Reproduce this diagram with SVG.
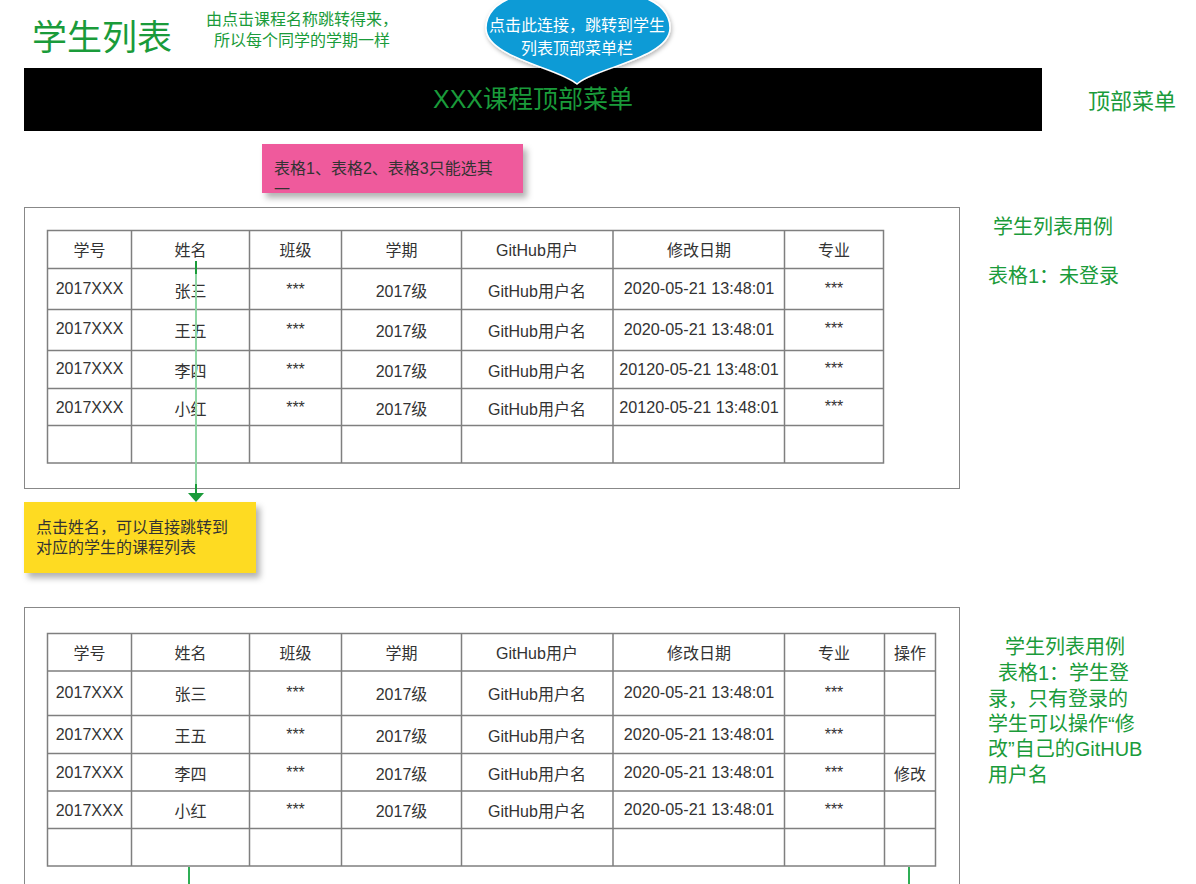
<svg xmlns="http://www.w3.org/2000/svg" width="1196" height="884" viewBox="0 0 1196 884">
<defs>
<style>
text{font-family:"Liberation Sans","Noto Sans CJK SC",sans-serif;}
.g{fill:#1a9b3a;}
.t{font-size:16px;fill:#333333;text-anchor:middle;}
.d{font-size:16.2px;fill:#333333;text-anchor:middle;}
.frame{fill:#ffffff;stroke:#888888;stroke-width:1;}
.grid{fill:none;stroke:#7f7f7f;stroke-width:1.5;}
.note{font-size:16px;fill:#333333;}
.side{font-size:20px;}
</style>
<filter id="sh" x="-10%" y="-20%" width="130%" height="150%">
<feDropShadow dx="4" dy="5" stdDeviation="3" flood-color="#000000" flood-opacity="0.3"/>
</filter>
<filter id="sh2" x="-10%" y="-20%" width="130%" height="150%">
<feDropShadow dx="1" dy="2" stdDeviation="2" flood-color="#000000" flood-opacity="0.3"/>
</filter>
</defs>
<rect width="1196" height="884" fill="#ffffff"/>

<g id="title">
<text x="32" y="50" class="g" font-size="35">学生列表</text>
</g>
<g id="note-source">
<text x="302" y="25" class="g" font-size="16" text-anchor="middle">由点击课程名称跳转得来，</text>
<text x="302" y="46" class="g" font-size="16" text-anchor="middle">所以每个同学的学期一样</text>
</g>

<g id="top-menu">
<rect x="24" y="68" width="1018" height="63" fill="#000000"/>
<text x="533" y="108" class="g" font-size="25" text-anchor="middle">XXX课程顶部菜单</text>
</g>
<g id="top-menu-label">
<text x="1088" y="109" class="g" font-size="22">顶部菜单</text>
</g>

<g id="bubble">
<path d="M577 84 C560 68 486 58 486 28 C486 -2 530 -12 578 -12 C626 -12 670 -2 670 28 C670 58 594 68 577 84 Z" fill="#0b9bd6" stroke="#ffffff" stroke-width="1.5" filter="url(#sh2)"/>
<text x="577" y="31" font-size="16" fill="#ffffff" text-anchor="middle">点击此连接，跳转到学生</text>
<text x="577" y="54" font-size="16" fill="#ffffff" text-anchor="middle">列表顶部菜单栏</text>
</g>

<g id="note-pink">
<rect x="262" y="144" width="261" height="49" fill="#ef5a9c" filter="url(#sh)"/>
<text x="274" y="174" class="note">表格1、表格2、表格3只能选其</text>
<text x="274" y="195" class="note">一</text>
</g>

<g id="table1">
<rect class="frame" x="24.5" y="207.5" width="935" height="281"/>
<rect class="grid" x="47.5" y="230.5" width="836" height="232.5"/>
<path class="grid" d="M47.5 268.5H883.5M47.5 309.5H883.5M47.5 350.5H883.5M47.5 388.5H883.5M47.5 425.5H883.5M131.5 230.5V463M249.5 230.5V463M341.5 230.5V463M461.5 230.5V463M613 230.5V463M784.5 230.5V463"/>
<text class="t" x="89.5" y="256">学号</text>
<text class="t" x="190.5" y="256">姓名</text>
<text class="t" x="295.5" y="256">班级</text>
<text class="t" x="401.5" y="256">学期</text>
<text class="t" x="537" y="256">GitHub用户</text>
<text class="t" x="699" y="256">修改日期</text>
<text class="t" x="834" y="256">专业</text>

<text class="t" x="89.5" y="294">2017XXX</text>
<text class="t" x="190.5" y="297">张三</text>
<text class="t" x="295.5" y="295">***</text>
<text class="t" x="401.5" y="297">2017级</text>
<text class="t" x="537" y="297">GitHub用户名</text>
<text class="d" x="699" y="294">2020-05-21 13:48:01</text>
<text class="t" x="834" y="294">***</text>

<text class="t" x="89.5" y="334">2017XXX</text>
<text class="t" x="190.5" y="337">王五</text>
<text class="t" x="295.5" y="335">***</text>
<text class="t" x="401.5" y="337">2017级</text>
<text class="t" x="537" y="337">GitHub用户名</text>
<text class="d" x="699" y="335">2020-05-21 13:48:01</text>
<text class="t" x="834" y="334">***</text>

<text class="t" x="89.5" y="374">2017XXX</text>
<text class="t" x="190.5" y="377">李四</text>
<text class="t" x="295.5" y="375">***</text>
<text class="t" x="401.5" y="377">2017级</text>
<text class="t" x="537" y="377">GitHub用户名</text>
<text class="d" x="699" y="375">20120-05-21 13:48:01</text>
<text class="t" x="834" y="374">***</text>

<text class="t" x="89.5" y="413">2017XXX</text>
<text class="t" x="190.5" y="415">小红</text>
<text class="t" x="295.5" y="413">***</text>
<text class="t" x="401.5" y="415">2017级</text>
<text class="t" x="537" y="415">GitHub用户名</text>
<text class="d" x="699" y="413">20120-05-21 13:48:01</text>
<text class="t" x="834" y="412">***</text>
</g>

<g id="table1-label">
<text x="993" y="234" class="g side">学生列表用例</text>
<text x="988" y="283" class="g side">表格1：未登录</text>
</g>

<g id="note-yellow">
<rect x="24" y="502" width="232" height="71" fill="#fedb22" filter="url(#sh)"/>
<text x="36" y="533" class="note">点击姓名，可以直接跳转到</text>
<text x="36" y="553" class="note">对应的学生的课程列表</text>
</g>

<g id="table2">
<rect class="frame" x="24.5" y="607.5" width="935" height="300"/>
<rect class="grid" x="47.5" y="633.5" width="888" height="232.5"/>
<path class="grid" d="M47.5 671H935.5M47.5 715.5H935.5M47.5 753.5H935.5M47.5 791H935.5M47.5 828.5H935.5M131.5 633.5V866M249.5 633.5V866M341.5 633.5V866M461.5 633.5V866M613 633.5V866M784.5 633.5V866M884.5 633.5V866"/>
<text class="t" x="89.5" y="659">学号</text>
<text class="t" x="190.5" y="659">姓名</text>
<text class="t" x="295.5" y="659">班级</text>
<text class="t" x="401.5" y="659">学期</text>
<text class="t" x="537" y="659">GitHub用户</text>
<text class="t" x="699" y="659">修改日期</text>
<text class="t" x="834" y="659">专业</text>
<text class="t" x="910" y="659">操作</text>

<text class="t" x="89.5" y="698">2017XXX</text>
<text class="t" x="190.5" y="700">张三</text>
<text class="t" x="295.5" y="698">***</text>
<text class="t" x="401.5" y="700">2017级</text>
<text class="t" x="537" y="700">GitHub用户名</text>
<text class="d" x="699" y="698">2020-05-21 13:48:01</text>
<text class="t" x="834" y="698">***</text>

<text class="t" x="89.5" y="740">2017XXX</text>
<text class="t" x="190.5" y="742">王五</text>
<text class="t" x="295.5" y="740">***</text>
<text class="t" x="401.5" y="742">2017级</text>
<text class="t" x="537" y="742">GitHub用户名</text>
<text class="d" x="699" y="740">2020-05-21 13:48:01</text>
<text class="t" x="834" y="740">***</text>

<text class="t" x="89.5" y="778">2017XXX</text>
<text class="t" x="190.5" y="780">李四</text>
<text class="t" x="295.5" y="778">***</text>
<text class="t" x="401.5" y="780">2017级</text>
<text class="t" x="537" y="780">GitHub用户名</text>
<text class="d" x="699" y="778">2020-05-21 13:48:01</text>
<text class="t" x="834" y="778">***</text>
<text class="t" x="910" y="780">修改</text>

<text class="t" x="89.5" y="816">2017XXX</text>
<text class="t" x="190.5" y="817">小红</text>
<text class="t" x="295.5" y="815">***</text>
<text class="t" x="401.5" y="817">2017级</text>
<text class="t" x="537" y="817">GitHub用户名</text>
<text class="d" x="699" y="815">2020-05-21 13:48:01</text>
<text class="t" x="834" y="815">***</text>
</g>

<g id="table2-label">
<text x="1005" y="654" class="g side">学生列表用例</text>
<text x="998" y="680" class="g side">表格1：学生登</text>
<text x="988" y="706" class="g side">录，只有登录的</text>
<text x="988" y="731" class="g side">学生可以操作“修</text>
<text x="988" y="756" class="g side">改”自己的GitHUB</text>
<text x="988" y="782" class="g side">用户名</text>
</g>

<g id="connectors">
<line x1="196" y1="274" x2="196" y2="484" stroke="#8fd6a3" stroke-width="2"/>
<line x1="196" y1="261" x2="196" y2="274" stroke="#1a9b3a" stroke-width="2"/>
<line x1="196" y1="484" x2="196" y2="494" stroke="#1a9b3a" stroke-width="2"/>
<polygon points="188,493 204,493 196,502" fill="#1a9b3a"/>
<line x1="189" y1="867" x2="189" y2="884" stroke="#2fae55" stroke-width="2"/>
<line x1="909" y1="867" x2="909" y2="884" stroke="#2fae55" stroke-width="2"/>
</g>
</svg>
